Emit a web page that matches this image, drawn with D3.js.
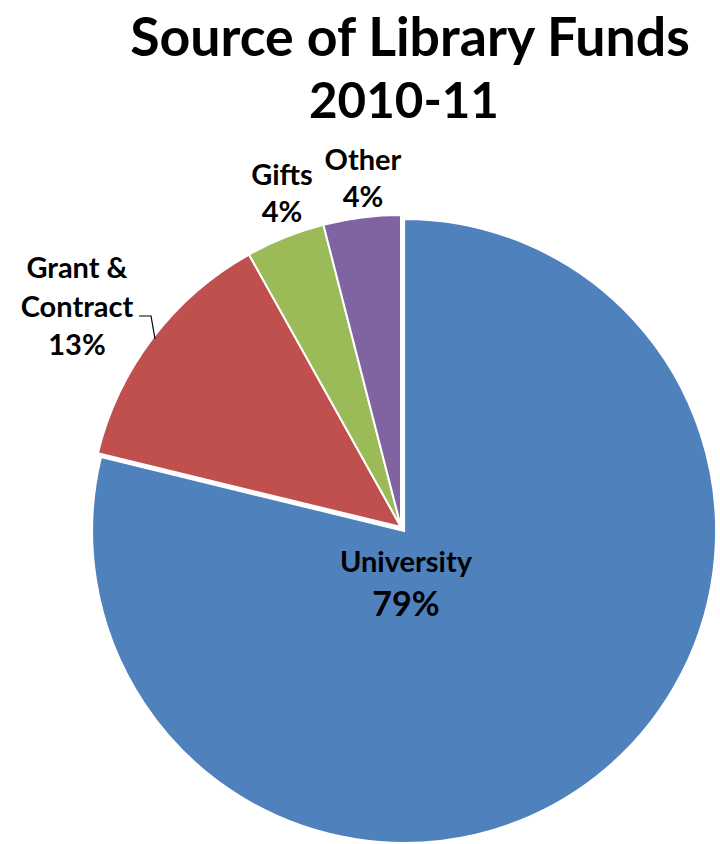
<html>
<head>
    <style>
        body { margin: 0; background-color: white; }
        #chart { width: 720px; height: 844px; }
    </style>
</head>
<body>
    <div id="chart"></div>
    <script src="https://cdn.jsdelivr.net/npm/d3@7"></script>
    <script>
        const categories = ['University', 'Grant & Contract', 'Gifts', 'Other'];
        const values = [78.8, 13.1, 4.1, 4.0];
        const percentLabels = ['79%', '13%', '4%', '4%'];
        const colors = ['#4F81BD', '#C0504D', '#9BBB59', '#8064A2'];

        const width = 720, height = 844;
        const cx = 401, cy = 527, radius = 312;
        const font = 'Lato, "Open Sans", sans-serif';

        const svg = d3.select('#chart').append('svg')
            .attr('width', width)
            .attr('height', height)
            .attr('viewBox', `0 0 ${width} ${height}`);

        // title, two lines, each sized to the reference width
        const title = svg.append('g').attr('font-family', font).attr('font-weight', 'bold').attr('fill', '#000');
        const fitText = (sel, target) => {
            const w = sel.node().getComputedTextLength();
            if (w > 0) sel.style('font-size', (50 * target / w) + 'px');
        };
        const t1 = title.append('text').attr('x', 410).attr('y', 56).attr('text-anchor', 'middle')
            .style('font-size', '50px').text('Source of Library Funds');
        const t2 = title.append('text').attr('x', 404).attr('y', 118).attr('text-anchor', 'middle')
            .style('font-size', '50px').text('2010-11');
        fitText(t1, 560);
        fitText(t2, 190);

        const data = categories.map((c, i) => ({ name: c, value: values[i], pct: percentLabels[i] }));

        const pie = d3.pie().sort(null).value(d => d.value);
        const arc = d3.arc().innerRadius(0).outerRadius(radius);
        const arcs = pie(data);

        const g = svg.append('g').attr('transform', `translate(${cx}, ${cy})`);

        g.selectAll('.slice')
            .data(arcs)
            .enter()
            .append('path')
            .attr('class', 'slice')
            .attr('fill', (d, i) => colors[i])
            .attr('stroke', 'white')
            .attr('stroke-width', 2)
            .attr('transform', (d, i) => {
                // university slice is pulled out a little
                if (i !== 0) return null;
                const mid = (d.startAngle + d.endAngle) / 2;
                const off = 5;
                return `translate(${Math.sin(mid) * off}, ${-Math.cos(mid) * off})`;
            })
            .attr('d', arc);

        // labels
        const labels = [
            { lines: ['University'], x: 406, y: 572, size: 29, pctY: 616, pctSize: 34 },
            { lines: ['Grant &', 'Contract'], x: 77, y: 278, size: 29, pctY: 355, pctSize: 29 },
            { lines: ['Gifts'], x: 282, y: 185, size: 29, pctY: 222, pctSize: 29 },
            { lines: ['Other'], x: 363, y: 170, size: 29, pctY: 207, pctSize: 29 }
        ];

        const lab = svg.append('g').attr('font-family', font).attr('font-weight', 'bold').attr('fill', '#000')
            .attr('text-anchor', 'middle');
        labels.forEach((l, i) => {
            l.lines.forEach((s, j) => {
                lab.append('text').attr('x', l.x).attr('y', l.y + j * 39)
                    .style('font-size', l.size + 'px').text(s);
            });
            lab.append('text').attr('x', l.x).attr('y', l.pctY)
                .style('font-size', l.pctSize + 'px').text(data[i].pct);
        });

        // leader line for Grant & Contract
        svg.append('path')
            .attr('d', 'M139,316 L151,316 L155,339')
            .attr('fill', 'none')
            .attr('stroke', '#000')
            .attr('stroke-width', 1.2);
    </script>
</body>
</html>
